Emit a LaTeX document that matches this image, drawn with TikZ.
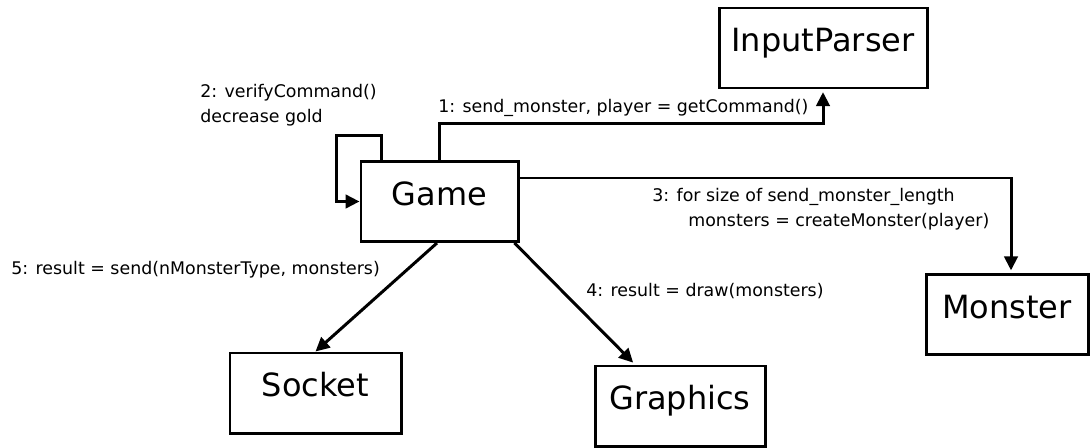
\documentclass[tikz,border=0pt]{standalone}
\usepackage{fontspec}
\setmainfont{DejaVu Sans}
\usetikzlibrary{arrows.meta}
\tikzset{>={Triangle[length=0.28cm,width=0.27cm]}}
\tikzset{
  cls/.style={draw, line width=1.7pt, minimum height=1.6cm, inner sep=0pt,
    text height=0.47cm, text depth=0.32cm, font=\fontsize{18.2pt}{22pt}\selectfont},
  msg/.style={inner sep=0pt, font=\fontsize{9.9pt}{14.2pt}\selectfont},
  link/.style={->, line width=1.7pt}
}

\begin{document}
\begin{tikzpicture}
\useasboundingbox (0,0) rectangle (21.8,8.94);
\node [cls, minimum width=4.16cm] (parser) at (16.46,7.98) {InputParser};
\node [cls, minimum width=3.14cm] (game) at (8.79,4.91) {Game};
\node [cls, minimum width=3.24cm] (monster) at (20.14,2.65) {Monster};
\node [cls, minimum width=3.42cm] (socket) at (6.31,1.08) {Socket};
\node [cls, minimum width=3.4cm] (graphics) at (13.6,0.82) {Graphics};
% messages
\draw [link, shorten >=1.5pt] (game.north) -- ++(0,0.73) -| (parser.south);
\draw [link] ([xshift=0.44cm]game.north west) |- ++(-0.9,0.49) |- (game.west);
\draw [link, shorten >=1.5pt] ([yshift=0.47cm]game.east) -| ([xshift=0.08cm]monster.north);
\draw [link, shorten >=1.5pt] ([xshift=-0.1cm]game.south east) -- ([xshift=-0.9cm]graphics.north);
\draw [link] ([xshift=-0.05cm]game.south) -- (socket.north);
\node [msg, anchor=base west] (m1) at (8.76,6.70) {1: send\_monster, player = getCommand()};
\node [msg, anchor=north west, align=left] (m2) at (4.0,7.26) {2: verifyCommand()\\decrease gold};
\node [msg, anchor=north west, align=left] (m3) at (13.04,5.18) {3: for size of send\_monster\_length\\\hspace*{0.72cm}monsters = createMonster(player)};
\node [msg, anchor=base west] (m4) at (11.72,3.02) {4: result = draw(monsters)};
\node [msg, anchor=base west] (m5) at (0.22,3.46) {5: result = send(nMonsterType, monsters)};
\end{tikzpicture}
\end{document}
